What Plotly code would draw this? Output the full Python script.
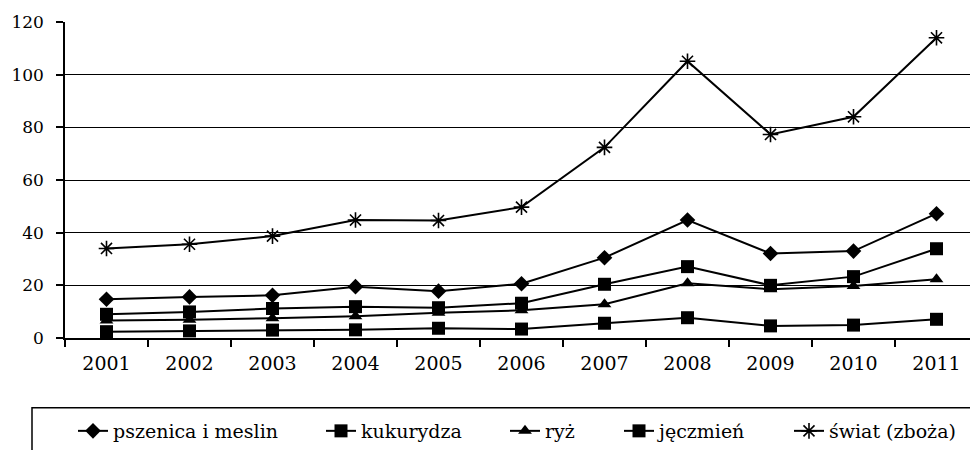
import plotly.graph_objects as go

years = ["2001", "2002", "2003", "2004", "2005", "2006", "2007", "2008", "2009", "2010", "2011"]
pszenica = [14.7, 15.6, 16.2, 19.5, 17.8, 20.6, 30.5, 44.8, 32.1, 33.0, 47.2]
kukurydza = [9.0, 9.9, 11.2, 11.9, 11.5, 13.2, 20.4, 27.1, 20.0, 23.3, 33.9]
ryz = [6.6, 6.9, 7.5, 8.3, 9.6, 10.5, 12.8, 20.8, 18.5, 19.7, 22.3]
jeczmien = [2.4, 2.7, 3.0, 3.1, 3.7, 3.4, 5.6, 7.7, 4.6, 4.9, 7.1]
swiat = [34.0, 35.6, 38.7, 44.8, 44.6, 49.7, 72.4, 105.1, 77.3, 84.0, 114.0]
y_ticks = [0, 20, 40, 60, 80, 100, 120]

FONT = "DejaVu Serif"

series = [
    ("pszenica i meslin", pszenica, dict(symbol="diamond", size=12, color="black")),
    ("kukurydza", kukurydza, dict(symbol="square", size=13, color="black")),
    ("ryż", ryz, dict(symbol="triangle-up", size=12, color="black")),
    ("jęczmień", jeczmien, dict(symbol="square", size=13, color="black")),
    ("świat (zboża)", swiat, dict(symbol="asterisk-open", size=13, color="black",
                                  line=dict(color="black", width=1.6))),
]
# screen x where each legend entry's text starts
legend_text_x = [115, 363, 547, 661, 831]

# page body has an 8px margin; figure is sized/offset accordingly
OFF = 8
W, H = 978 - OFF, 450 - OFF
ml, mr, mt, mb = 65 - OFF, 0, 22 - OFF, 111
pw, ph = W - ml - mr, H - mt - mb

def px_x(sx):
    return (sx - OFF - ml) / pw

def px_y(sy):
    return (H - mb - (sy - OFF)) / ph

fig = go.Figure()
layout_legends = {}
for i, (name, vals, mk) in enumerate(series):
    lg = "legend" if i == 0 else f"legend{i + 1}"
    fig.add_trace(go.Scatter(
        x=years, y=vals, name=name, mode="lines+markers",
        line=dict(color="black", width=2), marker=mk, legend=lg,
    ))
    layout_legends[lg] = dict(
        x=px_x(legend_text_x[i] - 42), xanchor="left",
        y=px_y(432), yanchor="middle",
        font=dict(family=FONT, size=19, color="black"),
        bgcolor="rgba(0,0,0,0)", borderwidth=0,
    )

fig.update_layout(
    width=W, height=H,
    margin=dict(l=ml, r=mr, t=mt, b=mb, pad=0),
    paper_bgcolor="white", plot_bgcolor="white",
    font=dict(family=FONT, size=17, color="black"),
    showlegend=True,
    xaxis=dict(
        type="category", range=[-0.5, 10.5],
        showline=True, linecolor="black", linewidth=1.5,
        ticks="outside", tickson="boundaries", ticklen=7, tickcolor="black", tickwidth=1.5,
        showgrid=False, tickfont=dict(family=FONT, size=19, color="black"),
        zeroline=False, ticklabelstandoff=7,
    ),
    yaxis=dict(
        range=[0, 120], tickvals=y_ticks, ticktext=[str(v) for v in y_ticks],
        showline=True, linecolor="black", linewidth=1.5,
        ticks="outside", ticklen=7, tickcolor="black", tickwidth=1.5,
        showgrid=True, gridcolor="black", gridwidth=1.4,
        zeroline=False, tickfont=dict(family=FONT, size=17, color="black"),
        ticklabelstandoff=9,
    ),
    shapes=[dict(
        type="rect", xref="paper", yref="paper",
        x0=px_x(32), x1=px_x(1010), y0=px_y(409), y1=px_y(480),
        line=dict(color="black", width=1.5), fillcolor="rgba(0,0,0,0)",
        layer="below",
    )],
    **layout_legends,
)

fig.write_html("out.html")
